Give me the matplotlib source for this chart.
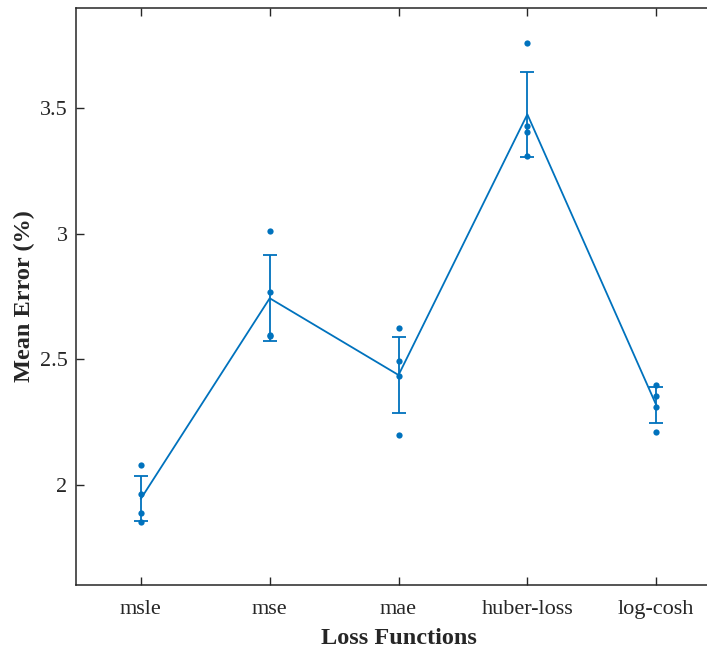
import matplotlib
matplotlib.use('Agg')
import matplotlib.pyplot as plt
import numpy as np

plt.rcParams['font.family'] = ['Liberation Serif', 'DejaVu Serif']

# loss functions compared
losses = ['msle', 'mse', 'mae', 'huber-loss', 'log-cosh']

# per-run mean error (%) for each loss, 4 runs each
runs_msle = [2.080, 1.963, 1.887, 1.850]
runs_mse = [3.013, 2.767, 2.598, 2.593]
runs_mae = [2.625, 2.492, 2.432, 2.198]
runs_huber = [3.759, 3.429, 3.405, 3.312]
runs_logcosh = [2.396, 2.355, 2.310, 2.209]

# mean over runs and spread (error bar half-length)
mean_err = [1.944, 2.743, 2.437, 3.476, 2.318]
std_err = [0.089, 0.171, 0.153, 0.169, 0.072]

blue = '#0072BD'
dark = '#262626'

fig = plt.figure(figsize=(7.07, 6.49), dpi=100)
ax = fig.add_axes([0.1082, 0.0986, 0.911, 0.8891])

x = np.arange(1, len(losses) + 1)
all_runs = [runs_msle, runs_mse, runs_mae, runs_huber, runs_logcosh]
for xi, r in zip(x, all_runs):
    ax.plot([xi] * len(r), r, 'o', color=blue, markersize=4.5, markeredgewidth=0)

ax.errorbar(x, mean_err, yerr=std_err, color=blue, linewidth=1.3,
            elinewidth=1.3, capsize=5, capthick=1.3)

ax.set_xlim(0.5, 5.5)
ax.set_ylim(1.6, 3.9)
ax.set_xticks(x)
ax.set_xticklabels(losses)
ax.set_yticks([2, 2.5, 3, 3.5])
ax.set_yticklabels(['2', '2.5', '3', '3.5'])

ax.tick_params(direction='in', length=6, width=1, colors=dark, labelsize=16,
               top=True, right=True)
ax.tick_params(axis='x', pad=11)
ax.tick_params(axis='y', pad=6.5)
for s in ax.spines.values():
    s.set_color(dark)
    s.set_linewidth(1.1)

ax.set_xlabel('Loss Functions', fontsize=17.5, fontweight='bold', color=dark, labelpad=6)
ax.set_ylabel('Mean Error (%)', fontsize=17.5, fontweight='bold', color=dark, labelpad=3)

plt.savefig('out.png', dpi=100)
